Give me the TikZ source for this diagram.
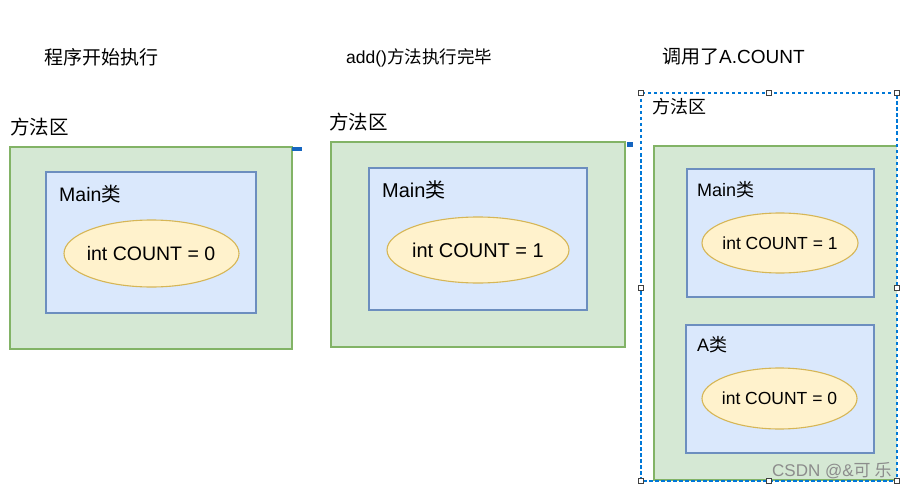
\documentclass[tikz,border=0pt]{standalone}
\usepackage{fontspec}
\setmainfont{Liberation Sans}
\newfontfamily\cjk{Noto Sans CJK SC}
\definecolor{grfill}{HTML}{D5E8D4}
\definecolor{grdraw}{HTML}{82B366}
\definecolor{blfill}{HTML}{DAE8FC}
\definecolor{bldraw}{HTML}{6C8EBF}
\definecolor{yefill}{HTML}{FFF2CC}
\definecolor{yedraw}{HTML}{D6B656}
\definecolor{selblue}{HTML}{0078D7}
\definecolor{markblue}{HTML}{1565C0}
\usetikzlibrary{shapes.geometric}
\begin{document}
\begin{tikzpicture}[x=1pt,y=-1pt,
  area/.style={fill=grfill,draw=grdraw,line width=1.2pt},
  cls/.style={fill=blfill,draw=bldraw,line width=1.2pt},
  var/.style={fill=yefill,draw=yedraw,line width=1.1pt},
  lbl/.style={anchor=west,inner sep=0pt,text=black},
  handle/.style={draw=black!75,fill=white,line width=0.7pt,minimum size=5pt,inner sep=0pt}
]
\useasboundingbox (0,0) rectangle (918,492);

% ---------- panel 1 ----------
\node[lbl,font=\cjk\fontsize{19}{22}\selectfont] (t1) at (44,57) {程序开始执行};
\node[lbl,font=\cjk\fontsize{19.5}{22}\selectfont] (m1) at (10,127) {方法区};
\draw[area] (10,147) rectangle (292,349);
\fill[markblue] (292,147) rectangle (302,151);
\draw[cls] (46,172) rectangle (256,313);
\node[lbl,font=\fontsize{19.5}{22}\selectfont] (c1) at (59,194) {Main{\cjk 类}};
\draw[var] (151.5,253.5) ellipse [x radius=87.5,y radius=33.5];
\node[font=\fontsize{19.5}{22}\selectfont,inner sep=0pt] (v1) at (151,253.5) {int COUNT = 0};

% ---------- panel 2 ----------
\node[lbl,font=\fontsize{17.5}{22}\selectfont] (t2) at (346,58) {add(){\cjk 方法执行完毕}};
\node[lbl,font=\cjk\fontsize{19.5}{22}\selectfont] (m2) at (329,122) {方法区};
\draw[area] (331,142) rectangle (625,347);
\fill[markblue] (627,142) rectangle (633,147);
\draw[cls] (369,168) rectangle (587,310);
\node[lbl,font=\fontsize{20}{22}\selectfont] (c2) at (382,190) {Main{\cjk 类}};
\draw[var] (478,250) ellipse [x radius=91,y radius=33];
\node[font=\fontsize{20}{22}\selectfont,inner sep=0pt] (v2) at (478,250) {int COUNT = 1};

% ---------- panel 3 ----------
\node[lbl,font=\fontsize{19}{22}\selectfont] (t3) at (662,57) {{\cjk 调用了}A.COUNT};
\node[lbl,font=\cjk\fontsize{18}{22}\selectfont] (m3) at (652,107) {方法区};
\fill[grfill] (654,146) rectangle (897,480);
\draw[grdraw,line width=1.2pt] (897,146) -- (654,146) -- (654,480) -- (897,480);
\draw[cls] (687,169) rectangle (874,297);
\node[lbl,font=\fontsize{18}{22}\selectfont] (c3) at (697,190) {Main{\cjk 类}};
\draw[var] (780,243) ellipse [x radius=78,y radius=30];
\node[font=\fontsize{17.5}{22}\selectfont,inner sep=0pt] (v3) at (780,243) {int COUNT = 1};
\draw[cls] (686,325) rectangle (874,453);
\node[lbl,font=\fontsize{18}{22}\selectfont] (c4) at (697,345) {A{\cjk 类}};
\draw[var] (779.5,398.5) ellipse [x radius=77.5,y radius=30.5];
\node[font=\fontsize{17.5}{22}\selectfont,inner sep=0pt] (v4) at (779.5,398.5) {int COUNT = 0};

% selection box
\draw[selblue,line width=1.1pt,dash pattern=on 3.5pt off 2.5pt] (641,93) rectangle (897,481);
\foreach \p in {(641,93),(769,93),(897,93),(641,288),(897,288),(641,481),(769,481),(897,481)}
  \node[handle] at \p {};

% watermark
\node[lbl,text=black!45,font=\fontsize{17}{20}\selectfont] (wm) at (772,471) {CSDN @\&{\cjk 可 乐}};
\end{tikzpicture}
\end{document}
